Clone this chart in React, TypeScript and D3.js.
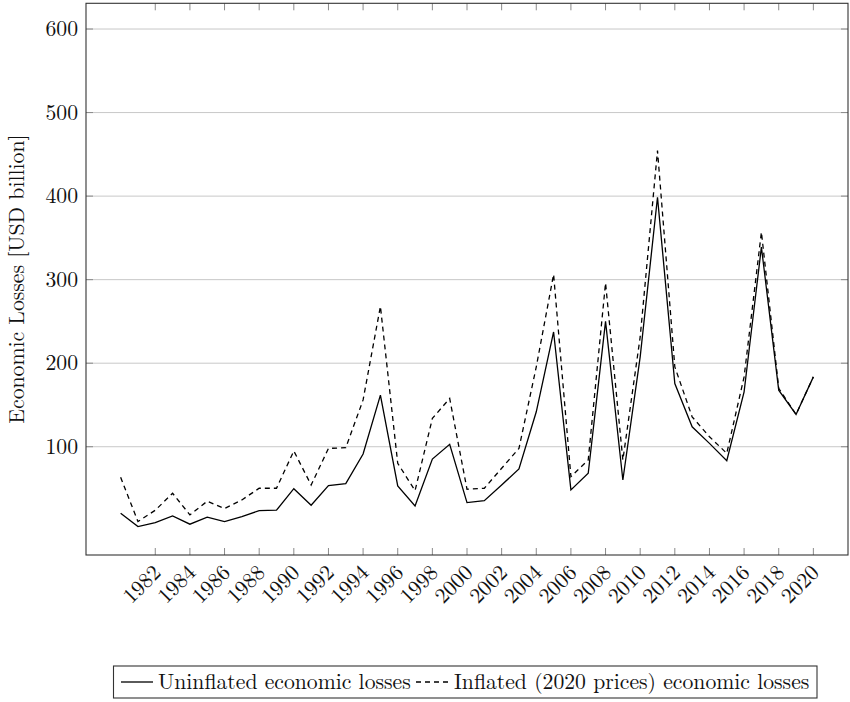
import React from "react";
import * as d3 from "d3";

const years: number[] = d3.range(1980, 2021);
const uninflated: number[] = [
  20.4, 4.4, 9.2, 17.2, 7.3, 15.6, 10.4, 16.4, 23.5, 24,
  49.8, 30, 53.4, 55.8, 91.3, 161.8, 53, 29.2, 85.3, 102.9,
  33.1, 35.5, 54.2, 73.4, 141.8, 237.4, 48.3, 68.2, 250, 60.2,
  207.5, 398.7, 175.7, 123.9, 104, 83.3, 165.7, 339, 167.7, 138.7,
  183.6,
];
const inflated: number[] = [
  63.4, 10.4, 24, 44.3, 18.4, 34.8, 26, 36.3, 50.3, 50.3,
  94.9, 54.2, 98, 98.8, 156, 268, 80.2, 47.4, 133.9, 157.8,
  49.1, 50.3, 74.2, 98, 195.6, 306.3, 64.2, 84.1, 296, 84.1,
  231.4, 454.5, 195.6, 135.8, 112, 92.1, 183.6, 356.9, 170, 138.7,
  183.6,
];
const xTicks: number[] = d3.range(1982, 2021, 2);
const yTicks: number[] = [100, 200, 300, 400, 500, 600];
const yLabel = "Economic Losses [USD billion]";
const seriesNames = ["Uninflated economic losses", "Inflated (2020 prices) economic losses"];

const W = 850;
const H = 702;
const FONT = '"Latin Modern Roman", "Liberation Serif", serif';
const txt: React.CSSProperties = { fontFamily: FONT, fontSize: "21.7px" };

export default function App() {
  const left = 86, right = 848, top = 3.3, bottom = 555;
  const x = d3.scaleLinear().domain([1978, 2022]).range([left, right]);
  const y = d3.scaleLinear().domain([-29.6, 630.8]).range([bottom, top]);
  const line = d3
    .line<number>()
    .x((_, i) => x(years[i]))
    .y((d) => y(d));

  const tickLen = 7;
  return (
    <svg
      width={W}
      height={H}
      style={{ position: "absolute", left: 0, top: 0, background: "#fff", fontFamily: FONT }}
    >
      <rect x={0} y={0} width={W} height={H} fill="#fff" />
      {yTicks.map((t) => (
        <line key={"g" + t} x1={left} x2={right} y1={y(t)} y2={y(t)} stroke="#c8c8c8" strokeWidth={1} />
      ))}
      {yTicks.map((t) => (
        <g key={"yt" + t}>
          <line x1={left} x2={left + tickLen} y1={y(t)} y2={y(t)} stroke="#8a8a8a" strokeWidth={1} />
          <line x1={right - tickLen} x2={right} y1={y(t)} y2={y(t)} stroke="#8a8a8a" strokeWidth={1} />
          <text x={78} y={y(t)} dy="0.32em" textAnchor="end" style={txt} fill="#111">
            {t}
          </text>
        </g>
      ))}
      {xTicks.map((t) => (
        <g key={"xt" + t}>
          <line x1={x(t)} x2={x(t)} y1={bottom} y2={bottom - tickLen} stroke="#8a8a8a" strokeWidth={1} />
          <line x1={x(t)} x2={x(t)} y1={top} y2={top + tickLen} stroke="#8a8a8a" strokeWidth={1} />
          <text
            transform={`translate(${x(t) + 2},${569}) rotate(-45)`}
            dy="0.32em"
            textAnchor="end"
            style={txt}
            fill="#111"
          >
            {t}
          </text>
        </g>
      ))}
      <path d={line(inflated) || ""} fill="none" stroke="#000" strokeWidth={1.3} strokeDasharray="5,4" />
      <path d={line(uninflated) || ""} fill="none" stroke="#000" strokeWidth={1.3} />
      <rect x={left} y={top} width={right - left} height={bottom - top} fill="none" stroke="#333" strokeWidth={1.1} />
      <text
        transform={`translate(24,${(top + bottom) / 2}) rotate(-90)`}
        textAnchor="middle"
        style={txt}
        fill="#111"
      >
        {yLabel}
      </text>
      <rect x={113.5} y={666} width={703.5} height={32} fill="#fff" stroke="#333" strokeWidth={1.1} />
      <line x1={121} x2={153} y1={682} y2={682} stroke="#000" strokeWidth={1.3} />
      <text x={158} y={682} dy="0.32em" style={txt} fill="#111">
        {seriesNames[0]}
      </text>
      <line x1={416} x2={449} y1={682} y2={682} stroke="#000" strokeWidth={1.3} strokeDasharray="5,4" />
      <text x={454} y={682} dy="0.32em" style={txt} fill="#111">
        {seriesNames[1]}
      </text>
    </svg>
  );
}
